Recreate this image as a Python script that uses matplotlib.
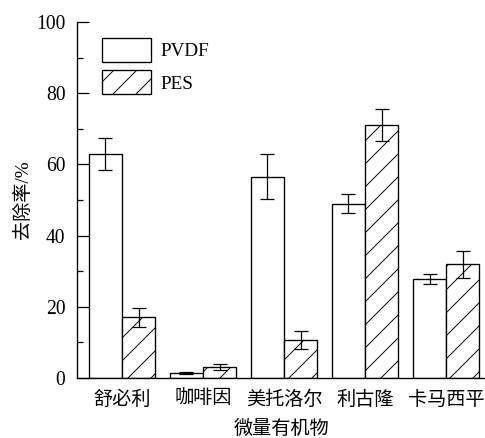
import numpy as np
import matplotlib
matplotlib.use("Agg")
import matplotlib.pyplot as plt

plt.rcParams['font.family'] = ['Liberation Serif', 'Noto Sans CJK SC']
plt.rcParams['hatch.linewidth'] = 1.0

compounds = ["舒必利", "咖啡因", "美托洛尔", "利古隆", "卡马西平"]
pvdf = [63.0, 1.5, 56.5, 49.0, 27.8]
pvdf_err = [4.5, 0.3, 6.3, 2.7, 1.5]
pes = [17.0, 3.0, 10.6, 71.0, 31.9]
pes_err = [2.8, 0.8, 2.5, 4.5, 3.7]

DPI = 69
fig = plt.figure(figsize=(485 / DPI, 438 / DPI), dpi=DPI)
ax = fig.add_axes([77 / 485, 1 - 378 / 438, 408 / 485, 356 / 438])

x = np.arange(len(compounds))
w = 0.41
err_kw = dict(ecolor="black", elinewidth=1.3, capsize=7.8, capthick=1.3)
ax.bar(x - w / 2, pvdf, w, yerr=pvdf_err, color="white", edgecolor="black",
       linewidth=1.4, label="PVDF", error_kw=err_kw)
ax.bar(x + w / 2, pes, w, yerr=pes_err, color="white", edgecolor="black",
       linewidth=1.4, hatch="/", label="PES", error_kw=err_kw)

ax.set_xlim(-0.556, 4.48)
ax.set_ylim(0, 100)
ax.set_yticks([0, 20, 40, 60, 80, 100])
ax.set_yticks([10, 30, 50, 70, 90], minor=True)
ax.set_xticks(x)
ax.set_xticklabels(compounds)

for s in ["top", "right"]:
    ax.spines[s].set_visible(False)
for s in ["left", "bottom"]:
    ax.spines[s].set_linewidth(1.4)

ax.tick_params(axis="y", which="major", direction="in", length=12.2, width=1.3,
               pad=12, labelsize=20.5)
ax.tick_params(axis="y", which="minor", direction="in", length=6.2, width=1.3)
ax.tick_params(axis="x", length=0, pad=13, labelsize=20)

ax.set_ylabel("去除率/%", fontsize=20, labelpad=4)
ax.set_xlabel("微量有机物", fontsize=20, labelpad=11)

ax.legend(loc="upper left", bbox_to_anchor=(25 / 408, 1 - 16 / 356), frameon=False,
          fontsize=20, handlelength=2.58, handleheight=1.55, handletextpad=0.46,
          labelspacing=0.43, borderpad=0, borderaxespad=0)

fig.savefig("out.png", dpi=DPI)
